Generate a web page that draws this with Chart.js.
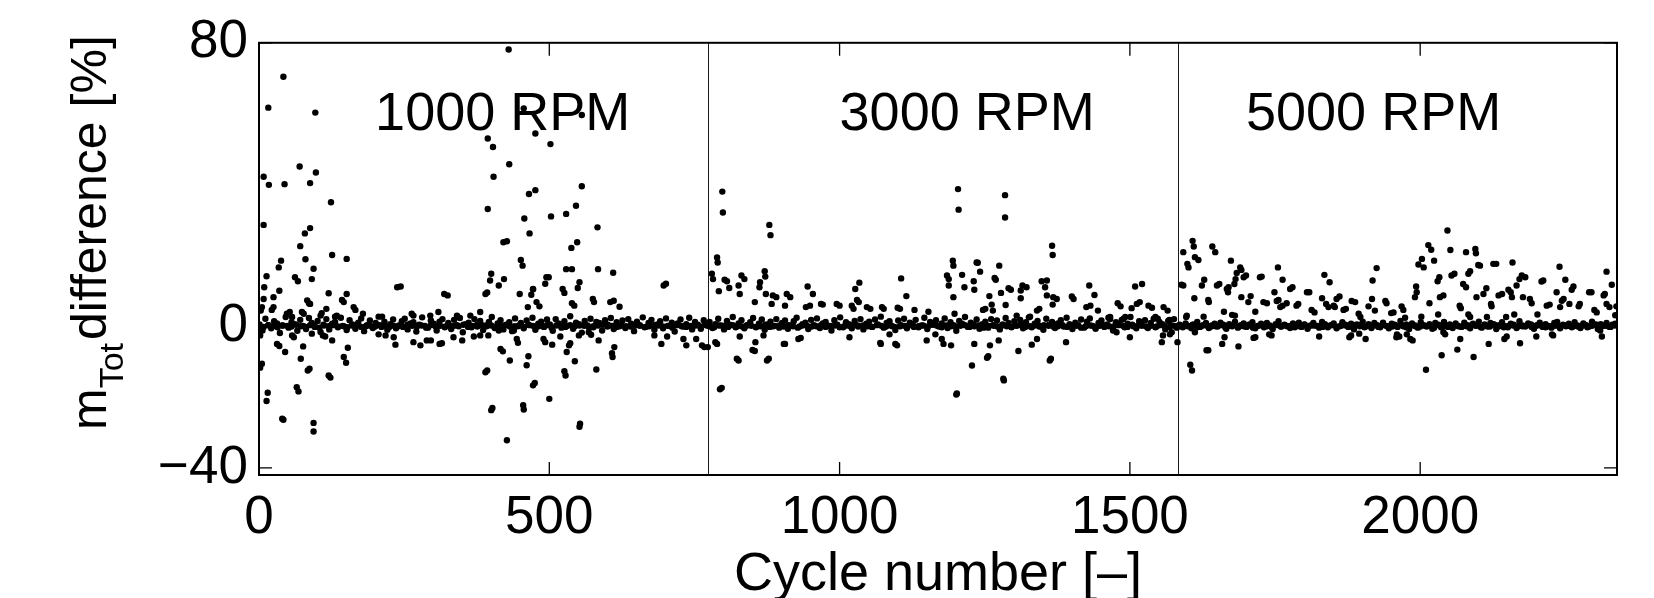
<!DOCTYPE html>
<html>
<head>
<meta charset="utf-8">
<script src="https://cdn.jsdelivr.net/npm/chart.js@4.4.1/dist/chart.umd.min.js"></script>
<style>
html,body{margin:0;padding:0;background:#fff;}
canvas{display:block;}
</style>
</head>
<body>
<canvas id="c" width="1654" height="598"></canvas>
<script>
// ---------- data ----------
const xTicks = [0, 500, 1000, 1500, 2000];
const yTicks = [-40, 0, 80];
const xRange = [0, 2339];
const yRange = [-42, 80];
const regimeLabels = ['1000 RPM', '3000 RPM', '5000 RPM'];
const regimeLabelX = [200, 1000, 1700];
const regimeLabelY = 59.6;
const regimeBoundaries = [774, 1583];
const xTitle = 'Cycle number [–]';

// dense band (one value every 5 cycles) per regime
const band1000Start = 1, band3000Start = 776, band5000Start = 1586, bandStep = 5;
const band1000 = [
0.5,-1.2,2.1,0.3,-0.6,1.4,0.8,-1.9,0.2,2.6,
-0.4,1.1,0.6,-1.3,1.8,0.1,-0.8,2.3,0.9,-0.2,
1.5,-1.6,0.4,2.0,-0.9,0.7,1.2,-0.3,2.4,0.0,
-1.1,1.7,0.5,-0.7,1.0,2.2,-1.4,0.3,1.6,-0.5,
0.9,2.7,-0.2,1.3,-1.0,0.6,1.9,-0.6,0.2,1.4,
2.1,-0.9,0.8,1.1,-1.5,0.4,2.5,0.1,-0.4,1.6,
0.7,-1.2,1.3,2.0,-0.1,0.9,-0.8,1.8,0.3,2.3,
-1.7,0.6,1.0,-0.3,2.0,0.5,1.5,-1.1,0.2,1.2,
2.6,-0.5,0.8,1.7,-0.9,0.4,1.1,-1.4,2.2,0.0,
0.9,-0.6,1.6,0.3,2.4,-1.0,0.7,1.3,-0.2,1.9,
0.5,-1.3,2.0,0.8,-0.4,1.4,0.1,2.8,-0.7,1.0,
0.6,-1.8,1.5,0.2,2.1,-0.3,1.2,0.9,-1.2,1.7,
0.4,2.3,-0.8,1.1,0.0,1.6,-0.5,2.0,0.7,-1.4,
1.3,0.3,2.5,-0.2,0.9,1.8,-1.0,0.5,1.4,-0.6,
2.2,0.1,1.0,-1.5,0.8,1.9,-0.1,0.6,2.4,-0.9,
1.2,0.4,-0.7,1.7,0.2];
const band3000 = [
1.2,-0.5,0.6,2.1,0.2,-0.9,1.5,0.4,2.6,-0.3,
0.8,1.7,-0.6,0.3,1.1,2.3,-0.2,0.7,1.9,-1.0,
0.5,1.3,0.0,2.0,-0.4,0.9,1.6,-0.7,0.2,1.4,
2.4,-0.1,0.6,1.0,-0.8,1.8,0.3,2.2,-0.5,0.8,
1.2,0.1,-1.2,1.7,0.4,2.5,-0.3,1.1,0.6,-0.6,
1.5,0.2,2.0,-0.9,0.7,1.3,-0.2,1.9,0.5,2.7,
-0.4,0.9,1.4,0.0,-1.1,1.6,0.3,2.1,-0.6,1.0,
0.6,1.8,-0.3,0.2,2.4,-0.8,1.2,0.5,1.7,-0.1,
0.8,2.2,-0.5,1.1,0.3,-1.3,1.5,0.7,2.6,-0.2,
1.0,0.4,1.9,-0.7,0.6,1.3,-0.4,2.0,0.1,1.6,
-0.9,0.5,2.3,0.9,-0.2,1.4,0.2,1.8,-0.6,1.1,
2.5,-0.3,0.7,1.5,0.0,-1.0,2.1,0.4,1.2,-0.5,
0.8,1.7,-0.1,2.4,0.6,-0.8,1.0,0.3,1.9,-0.4,
1.3,2.2,0.1,-0.7,0.9,1.6,-0.2,0.5,2.0,-1.2,
1.1,0.4,1.8,-0.3,0.7,2.6,0.0,-0.6,1.4,0.2,
1.7,-0.5,0.9,2.1,-0.1,1.2,0.6,-0.9,1.5,0.3,
2.0,-0.4];
const band5000 = [
0.4,-0.3,0.8,0.1,-0.6,0.5,1.2,-0.2,0.3,0.9,
-0.5,0.2,0.7,-0.1,1.0,0.4,-0.7,0.6,0.0,1.3,
-0.4,0.3,0.8,-0.2,0.5,1.1,-0.6,0.1,0.7,-0.3,
0.9,0.2,-0.8,0.6,1.4,-0.1,0.4,0.0,-0.5,0.8,
0.3,1.0,-0.2,0.5,-0.7,0.2,0.9,0.1,-0.4,1.2,
0.6,-0.3,0.3,0.8,-0.6,0.0,1.1,0.4,-0.2,0.7,
-0.9,0.5,0.2,1.3,-0.1,0.6,-0.5,0.9,0.3,-0.3,
1.0,0.1,-0.6,0.7,0.4,-0.2,1.5,0.0,0.5,-0.8,
0.8,0.2,-0.4,1.1,0.3,-0.1,0.6,-0.7,0.9,0.4,
-0.3,1.2,0.1,0.5,-0.5,0.8,0.0,-0.2,1.0,0.3,
-0.6,0.7,0.2,1.3,-0.4,0.5,-0.1,0.9,0.6,-0.8,
0.3,1.1,0.0,-0.3,0.7,0.4,-0.5,1.4,0.2,-0.1,
0.8,0.5,-0.7,0.3,1.0,-0.2,0.6,0.1,-0.4,0.9,
1.2,-0.6,0.4,0.0,0.7,-0.3,1.1,0.2,-0.5,0.8,
0.3,-0.1,1.3,0.5,-0.8,0.6,0.1,0.9,-0.2,0.4,
0.7];
// near-zero core of the band (one value every 8 cycles)
const coreStart = 0, coreStep = 8;
const core = [
0.1,-0.2,0.3,0.0,-0.3,0.2,0.1,-0.1,0.4,0.0,
-0.2,0.3,0.1,-0.4,0.2,0.0,0.3,-0.1,0.1,-0.3,
0.2,0.4,-0.2,0.0,0.1,-0.1,0.3,0.2,-0.3,0.1,
0.0,-0.2,0.4,0.1,-0.1,0.2,-0.4,0.3,0.0,0.1,
-0.3,0.2,0.1,0.0,0.4,-0.2,0.1,-0.1,0.3,0.0,
0.2,-0.3,0.1,0.3,-0.1,0.0,0.2,-0.2,0.4,0.1,
-0.1,0.0,0.3,-0.4,0.2,0.1,-0.2,0.3,0.0,0.2,
0.1,-0.3,0.0,0.2,0.4,-0.1,0.1,-0.2,0.3,0.0,
-0.1,0.2,0.1,-0.3,0.0,0.3,0.2,-0.1,0.1,-0.4,
0.3,0.0,-0.2,0.1,0.2,-0.1,0.4,0.0,-0.3,0.2,
0.1,-0.2,0.3,0.0,-0.1,0.2,0.1,-0.3,0.0,0.4,
-0.2,0.1,0.2,-0.1,0.3,0.0,-0.4,0.2,0.1,-0.1,
0.0,0.3,-0.2,0.1,0.2,-0.3,0.0,0.1,0.4,-0.1,
0.2,0.0,-0.2,0.3,0.1,-0.1,0.2,-0.3,0.0,0.1,
0.3,-0.2,0.0,0.2,-0.1,0.4,0.1,-0.3,0.2,0.0,
-0.1,0.1,0.3,-0.2,0.0,0.2,-0.4,0.1,0.3,-0.1,
0.2,0.0,-0.3,0.1,0.4,-0.2,0.0,0.2,-0.1,0.3,
0.1,-0.1,0.0,0.3,-0.2,0.2,0.1,-0.4,0.0,0.2,
-0.3,0.1,0.2,0.0,-0.1,0.3,0.1,-0.2,0.4,0.0,
0.2,-0.1,0.1,-0.3,0.3,0.0,-0.2,0.1,0.2,-0.1,
0.0,0.4,-0.3,0.1,0.2,-0.1,0.0,0.3,-0.2,0.1,
0.3,-0.1,0.0,0.2,-0.4,0.1,0.2,0.0,-0.2,0.3,
-0.1,0.2,0.1,-0.3,0.0,0.4,-0.1,0.2,0.1,-0.2,
0.0,0.3,-0.2,0.1,0.2,-0.1,0.3,0.0,-0.3,0.1,
0.2,-0.2,0.4,0.0,-0.1,0.1,0.3,-0.3,0.2,0.0,
-0.1,0.1,0.2,-0.4,0.3,0.0,-0.2,0.1,0.2,-0.1,
0.0,0.3,0.1,-0.2,0.2,-0.1,0.4,0.0,-0.3,0.1,
0.2,-0.1,0.0,0.3,-0.2,0.1,0.2,-0.3,0.0,0.1,
-0.2,0.3,0.1,0.0,-0.1,0.2,-0.3,0.1,0.4,0.0,
0.1,-0.2,0.2];

// scattered cycles [cycle, difference %]
const outliers1000 = [
[42,70.4],[16,61.7],[97,60.3],[430,78.1],[70,45.1],[98,43.4],[88,40.4],[8,42.2],[17,39.9],[44,40.1],
[124,35],[8,28.6],[88,27.7],[79,26.2],[71,22.6],[126,20.1],[151,19],[38,18.5],[80,18.9],[34,16.6],
[94,16.2],[13,14.1],[62,13.8],[67,12.7],[91,13.3],[9,11],[35,10],[25,8.2],[120,9.3],[151,9.1],
[238,11],[244,11.2],[319,9.1],[325,8.7],[390,9.1],[393,9.5],[400,14.8],[398,12.9],[413,11.5],[422,13.3],
[394,33.1],[404,42.2],[394,53],[403,50.6],[431,45.7],[421,23.7],[427,24],[457,30.4],[466,26.2],[465,37.3],
[476,38.4],[451,18.7],[454,17.1],[449,9.1],[472,10.5],[463,5.4],[456,61.5],[476,54.4],[502,51.4],[556,59.6],
[503,31],[529,31.7],[546,34],[556,39.5],[583,27.9],[538,22.1],[548,23.7],[529,16.1],[539,16.1],[584,16.1],
[610,15.1],[495,13.8],[499,13.8],[493,12],[552,12.4],[549,10.8],[523,10.5],[526,9.4],[472,10.4],[469,8.9],
[697,11.5],[701,12],[575,7.7],[577,6.8],[605,6.8],[611,7.2],[478,6.8],[483,5.6],[539,6.5],[543,5.8],
[621,5.5],[5,5.4],[8,7.7],[3,4.4],[25,5.4],[22,4.6],[48,3.5],[53,4],[57,2.6],[74,4],
[77,3.5],[83,7.3],[86,6.5],[88,6.3],[106,3],[108,3.7],[116,4.9],[131,2.7],[134,3],[143,7.4],
[146,6.8],[163,5.4],[166,4.6],[179,3.5],[212,2.7],[263,3.5],[266,3],[295,3],[309,4],[341,3],
[364,3],[381,4],
[2,-2.6],[5,-10.6],[2,-11.7],[15,-18.8],[13,-21.1],[40,-26.1],[42,-26.4],[65,-17.2],[68,-18.4],[94,-27.3],
[94,-29.7],[31,-5],[35,-5.6],[45,-7.3],[57,-2.6],[60,-3.1],[72,-9.2],[76,-5.7],[87,-12],[84,-12.5],
[91,-2.1],[110,-2.6],[114,-2.9],[126,-4],[120,-13.9],[123,-14.5],[146,-8.7],[150,-10.3],[153,-6.1],[235,-5.2],
[278,-5.4],[296,-4],[311,-5],[315,-4.8],[390,-13],[393,-12.5],[400,-23.7],[402,-23.1],[416,-6.4],[420,-7.1],
[432,-9.7],[427,-32.2],[444,-3.6],[446,-4.7],[455,-22.3],[456,-23.5],[461,-11],[464,-8.5],[472,-16.7],[475,-16],
[490,-3.6],[493,-4.5],[505,-5.2],[519,-2.9],[536,-4.8],[534,-5.4],[530,-7.3],[551,-2.6],[568,-1.7],[572,-2.4],
[585,-4],[612,-5.9],[608,-7.6],[609,-8.7],[526,-12.7],[528,-13.9],[544,-9.9],[581,-12.2],[500,-20.5],[553,-27.5],
[552,-28.4],[693,-5],[731,-3.6],[736,-5.4],[753,-3.6],[763,-5.4],[767,-5.9],[773,-5.9],[681,-2.6],[703,-2.9],
[206,-2.3],[218,-2.6],[232,-3.1],[266,-4.5],[289,-4],[335,-3.1],[350,-4],[370,-2.9],[381,-2.6],[395,-2.6],
[413,-1.2],[439,-1.2]];
const outliers3000 = [
[798,38],[799,32.1],[789,19.4],[790,18],[780,14.8],[782,13.3],[792,9.9],[802,13.1],[806,12.7],[810,10.8],
[826,11.5],[828,9.1],[831,14.3],[836,13.3],[863,12.4],[862,11],[871,15.5],[872,14],[879,28.6],[881,25.7],
[873,9.1],[885,8.7],[891,8.2],[854,6.8],[883,6.3],[909,9.1],[915,8.2],[906,5.8],[945,11.2],[954,9.1],
[942,5.4],[949,5.8],
[794,-17.8],[797,-17.4],[823,-9.2],[826,-9.7],[850,-6.7],[854,-7],[875,-9.7],[878,-9.2],[786,-4.5],[789,-5],
[828,-2.9],[855,-4.5],[869,-2.6],[904,-5],[906,-5],[929,-3.6],[933,-3.3],
[1204,38.7],[1205,32.9],[1285,37],[1285,30.7],[1366,22.7],[1367,20.1],[1195,18.5],[1196,17.1],[1236,18],[1238,17.9],
[1275,17.1],[1242,15.4],[1185,14.3],[1188,13.3],[1188,11.5],[1211,14.5],[1215,11],[1231,12.7],[1232,10.3],[1267,13.6],
[1269,13.1],[1291,10.7],[1295,10.3],[1278,9.4],[1258,8.5],[1286,6],[1196,8.2],[1312,10.1],[1315,11.5],[1322,11],
[1312,7.9],[1348,12.7],[1357,12.9],[1354,11],[1357,8.7],[1368,8.2],[1374,7.7],[1367,6.1],[1400,8.4],[1403,7.7],
[1430,11.5],[1439,8.8],[1425,5.4],[1432,5.8],[1445,4.4],[1106,13.5],[1115,8.5],[1027,10.5],[1034,12.3],[1030,7.4],
[1033,6.8],[1021,5.8],[1024,4.9],[1047,5.4],[1053,4.9],[995,6.3],[1000,5.8],[968,6.3],[971,6.1],[1073,5.4],
[1076,4.9],[1100,5.2],[1104,4.9],[1129,4.6],[1153,4.1],[1198,3.5],[1247,4.6],[1251,4.9],[1262,6.1],[1264,4.4],
[1305,3],[1328,2.7],[1340,4.4],[1344,4.9],
[1201,-19.3],[1202,-19],[1282,-14.8],[1283,-15.3],[1228,-11.1],[1254,-8.9],[1256,-8.5],[1362,-9.7],[1364,-9.2],[1308,-7],
[1331,-5.2],[1340,-3.6],[1390,-4.5],[1259,-5.4],[1274,-4],[1232,-5],[1192,-5.4],[1176,-3.6],[1179,-5],[1150,-4],
[1165,-2.3],[1070,-4.7],[1071,-5],[1096,-5],[1099,-5.4],[1086,-2.3],[1017,-3.1],
[1509,11.2],[1521,11.9],[1479,6.5],[1484,5.6],[1503,5.1],[1512,6.3],[1517,6.8],[1532,5.8],[1538,5.2],[1558,5.4],
[1565,4.4],[1463,2.4],[1466,2.6],[1489,2.1],[1492,2.6],[1544,2.6],[1548,2.1],[1568,1.8],[1500,-3.1],[1477,-1.7],
[1555,-4.5],[1557,-2.6],[1572,-1.7],[1569,-2.3],[1582,-4.5]];
const outliers5000 = [
[1608,24.1],[1610,22.5],[1592,20.9],[1642,22.5],[1647,20.9],[1599,17.6],[1601,16.6],[1612,19.5],[1618,18.7],[1674,18.5],
[1690,16.6],[1692,15.9],[1684,15],[1682,13.3],[1680,11.9],[1696,13.8],[1700,14.3],[1724,13.8],[1727,14],[1755,16.6],
[1763,13.1],[1776,10.5],[1780,11],[1805,9.6],[1809,9.6],[1835,14.5],[1844,12.4],[1589,11.7],[1592,11.5],[1624,11.5],
[1628,13.1],[1650,11.5],[1654,11.9],[1667,10.5],[1670,11],[1611,7.9],[1635,7.4],[1636,6.8],[1669,9.6],[1692,8.2],
[1708,8.5],[1704,6.8],[1716,4.1],[1730,6.8],[1736,6.5],[1749,9.6],[1753,7.1],[1756,7.4],[1759,5.4],[1763,5.8],
[1770,6.5],[1787,5.8],[1790,6.3],[1813,4.6],[1818,3.9],[1831,7.9],[1838,6.3],[1842,5.4],[1851,5.8],[1853,5.4],
[1856,7.7],[1861,8.4],[1868,4.6],[1872,4.9],[1882,7.1],[1888,6.8],[1894,3.5],[1897,2.6],[1911,5.6],[1917,7.7],
[1918,12.9],[1925,16.4],[1922,4.4],[1598,3],[1597,2.6],[1627,2.7],[1662,4.1],[1676,3.2],[1681,3],
[1604,-10.9],[1607,-12.5],[1632,-6.8],[1635,-6.8],[1659,-5],[1663,-3.1],[1687,-5.7],[1713,-3.3],[1716,-3.1],[1740,-2.3],
[1744,-2.6],[1826,-2.9],[1878,-3.1],[1881,-2.6],[1895,-2.1],[1906,-3.6],[1612,-1.7],
[2047,27],[2014,22.9],[2019,21.6],[2003,19],[2006,16.6],[1997,17.4],[2024,18.5],[2052,21.5],[2079,20.9],[2095,21.8],
[2096,20.6],[2100,17.3],[2103,17.1],[2126,17.6],[2131,17.6],[2159,18],[2240,16.8],[2321,15.4],[2330,11.7],[2033,13.8],
[2030,12.7],[2054,14.3],[2059,14.8],[2074,11.9],[2079,11],[2083,14.8],[2086,15.5],[2114,10.7],[2097,8.2],[2109,9.1],
[2135,8.7],[2141,9.1],[2152,10.3],[2156,9.6],[2158,8.2],[2166,11.5],[2171,13.3],[2175,14.3],[2181,13.8],[2177,8.2],
[2189,7.7],[2192,6.5],[2209,12.6],[2212,12.9],[2218,5.8],[2223,6.1],[2235,9.6],[2244,7.2],[2247,7.7],[2250,13.1],
[2264,11.2],[2261,10.3],[2241,5.4],[2257,6.3],[2273,5.6],[2275,6.3],[2291,9.6],[2295,9.6],[2300,4.6],[2304,3.9],
[2316,8.7],[2318,9.1],[2321,6.3],[2326,5.4],[2338,5.6],[2336,3.1],[1993,11.2],[1994,9.6],[1991,8.2],[2016,6.5],
[2034,8.2],[2040,8.7],[2031,3.3],[2002,2.7],[2068,5.8],[2070,5.1],[2083,3.3],[2086,2.6],[2115,2.6],[2122,6.3],
[2123,5.6],[2148,2.6],[2162,3.3],[2202,3.3],[1940,7.1],[1942,6.5],[1950,3.7],[1954,3.9],[1968,5.6],[1971,4.6],
[1974,2.4],
[2010,-12.3],[2037,-8.2],[2064,-6.6],[2092,-8.7],[2069,-3.6],[2118,-5],[2145,-3.6],[2149,-2.9],[2172,-4.8],[2200,-2.9],
[2227,-2.3],[2229,-2.6],[2043,-2.3],[2040,-1.7],[1960,-2.3],[1977,-2.3],[1983,-3.6],[1987,-4],[1959,-3.1],[1964,-2.9],
[2313,-2.9],[2310,-1.2]];

// ---------- build ----------
const FONT = '"Liberation Sans", Arial, Helvetica, sans-serif';
const fmtTick = v => (v < 0 ? '\u2212' + Math.abs(v) : String(v));
const seq = (start, step, vals) => vals.map((v, i) => ({x: start + i * step, y: v}));
const pairs = arr => arr.map(([x, y]) => ({x, y}));
const dsStyle = {backgroundColor: '#000', borderColor: '#000', pointRadius: 3.2, pointBorderWidth: 0, pointHoverRadius: 3.2};
const datasets = [
  seq(coreStart, coreStep, core),
  seq(band1000Start, bandStep, band1000),
  seq(band3000Start, bandStep, band3000),
  seq(band5000Start, bandStep, band5000),
  pairs(outliers1000), pairs(outliers3000), pairs(outliers5000)
].map(d => Object.assign({data: d}, dsStyle));

const decor = {
  id: 'decor',
  beforeDatasetsDraw(chart) {
    const {ctx, chartArea: a, scales: {x}} = chart;
    ctx.save();
    ctx.strokeStyle = '#1a1a1a';
    ctx.lineWidth = 1;
    regimeBoundaries.forEach(b => {
      const px = Math.round(x.getPixelForValue(b)) + 0.5;
      ctx.beginPath(); ctx.moveTo(px, a.top); ctx.lineTo(px, a.bottom); ctx.stroke();
    });
    ctx.restore();
  },
  afterDraw(chart) {
    const {ctx, chartArea: a, scales: {x, y}} = chart;
    ctx.save();
    // box
    ctx.strokeStyle = '#000';
    ctx.lineWidth = 2;
    ctx.strokeRect(a.left, a.top, a.right - a.left, a.bottom - a.top);
    // inward ticks
    ctx.lineWidth = 1.3;
    const tl = 13;
    xTicks.forEach(v => {
      const px = x.getPixelForValue(v);
      ctx.beginPath();
      ctx.moveTo(px, a.bottom); ctx.lineTo(px, a.bottom - tl);
      ctx.moveTo(px, a.top); ctx.lineTo(px, a.top + tl);
      ctx.stroke();
    });
    yTicks.forEach(v => {
      const py = y.getPixelForValue(v);
      ctx.beginPath();
      ctx.moveTo(a.left, py); ctx.lineTo(a.left + tl, py);
      ctx.moveTo(a.right, py); ctx.lineTo(a.right - tl, py);
      ctx.stroke();
    });
    // regime labels
    ctx.fillStyle = '#000';
    ctx.font = '54px ' + FONT;
    ctx.textAlign = 'left';
    ctx.textBaseline = 'middle';
    regimeLabels.forEach((t, i) => {
      ctx.fillText(t, x.getPixelForValue(regimeLabelX[i]), y.getPixelForValue(regimeLabelY));
    });
    // x title
    ctx.textAlign = 'center';
    ctx.textBaseline = 'alphabetic';
    ctx.font = '54px ' + FONT;
    ctx.fillText(xTitle, (a.left + a.right) / 2, 590);
    // y title with subscript
    ctx.save();
    ctx.translate(106, 430);
    ctx.rotate(-Math.PI / 2);
    ctx.textAlign = 'left';
    ctx.font = '50px ' + FONT;
    ctx.fillText('m', 0, 0);
    let w = ctx.measureText('m').width;
    ctx.font = '34px ' + FONT;
    ctx.fillText('Tot', w, 17);
    w += ctx.measureText('Tot').width + 3;
    ctx.font = '50px ' + FONT;
    ctx.fillText('difference [%]', w, 0);
    ctx.restore();
    ctx.restore();
  }
};

new Chart(document.getElementById('c'), {
  type: 'scatter',
  data: {datasets},
  options: {
    responsive: false,
    animation: false,
    events: [],
    layout: {padding: {top: 42, right: 37, bottom: 0, left: 0}},
    plugins: {legend: {display: false}, tooltip: {enabled: false}},
    scales: {
      x: {
        type: 'linear', min: xRange[0], max: xRange[1],
        grid: {display: false, tickLength: 0}, border: {display: false},
        ticks: {color: '#000', font: {family: FONT, size: 53}, padding: 12, maxRotation: 0, autoSkip: false, callback: fmtTick},
        afterBuildTicks: s => { s.ticks = xTicks.map(v => ({value: v})); },
        afterFit: s => { s.height = 123; }
      },
      y: {
        type: 'linear', min: yRange[0], max: yRange[1],
        grid: {display: false, tickLength: 0}, border: {display: false},
        ticks: {color: '#000', font: {family: FONT, size: 53}, padding: 11, autoSkip: false, callback: fmtTick},
        afterBuildTicks: s => { s.ticks = yTicks.map(v => ({value: v})); },
        afterFit: s => { s.width = 259; }
      }
    }
  },
  plugins: [decor]
});
</script>
</body>
</html>
